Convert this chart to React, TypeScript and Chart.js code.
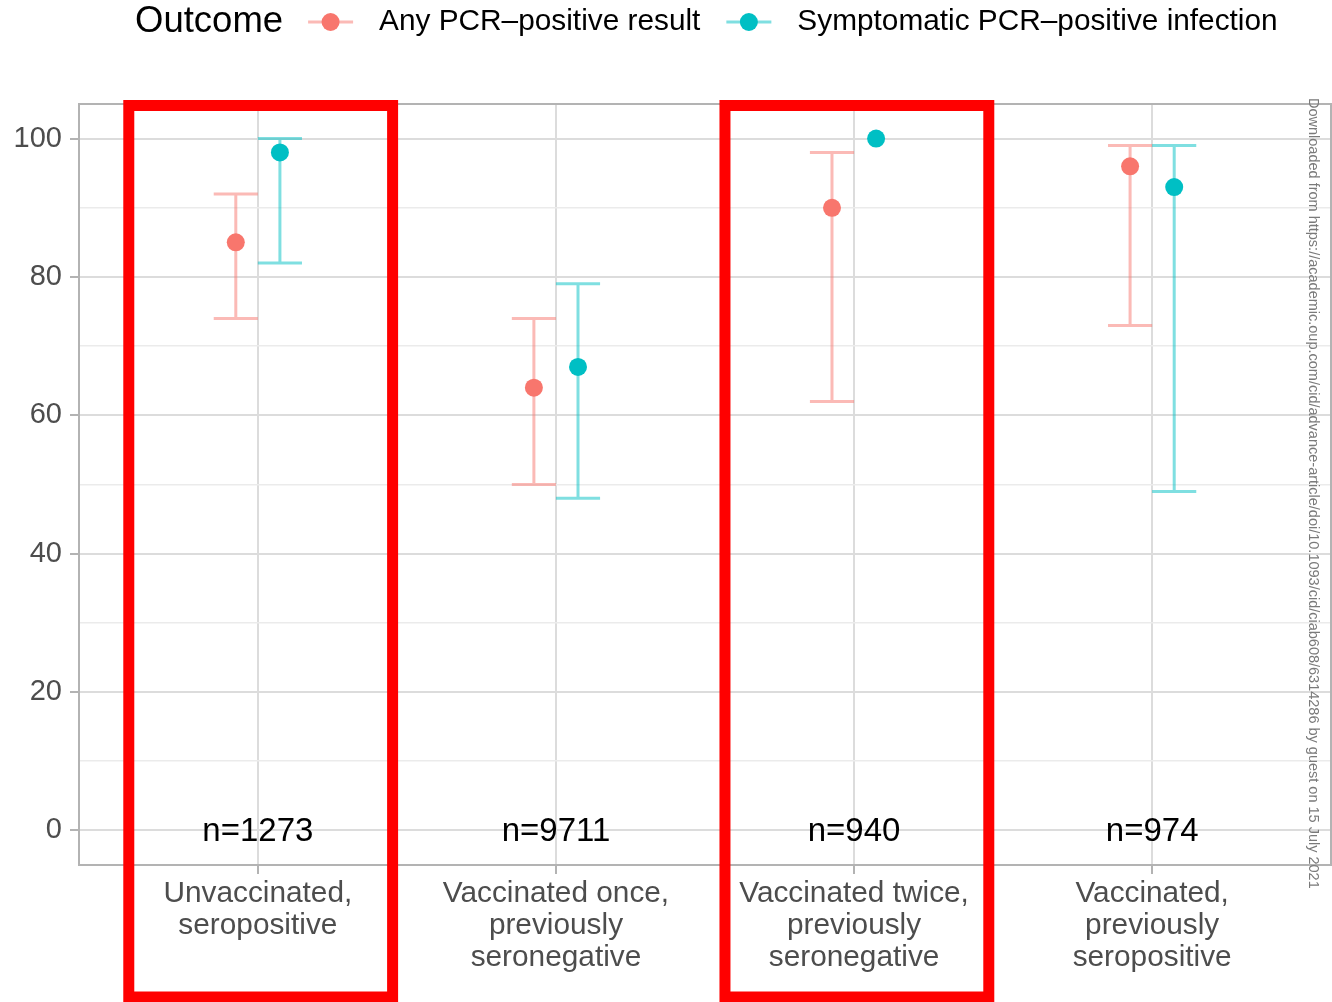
import React, { useEffect, useRef } from "react";
import { Chart, registerables } from "chart.js";

Chart.register(...registerables);

const categories: string[][] = [
  ["Unvaccinated,", "seropositive"],
  ["Vaccinated once,", "previously", "seronegative"],
  ["Vaccinated twice,", "previously", "seronegative"],
  ["Vaccinated,", "previously", "seropositive"],
];
const sampleSizes = ["n=1273", "n=9711", "n=940", "n=974"];

const anyPcrLabel = "Any PCR\u2013positive result";
const anyPcr = [85, 64, 90, 96];
const anyPcrLow = [74, 50, 62, 73];
const anyPcrHigh = [92, 74, 98, 99];

const sympLabel = "Symptomatic PCR\u2013positive infection";
const symp = [98, 67, 100, 93];
const sympLow: (number | null)[] = [82, 48, null, 49];
const sympHigh: (number | null)[] = [100, 79, null, 99];

const yTicks = [0, 10, 20, 30, 40, 50, 60, 70, 80, 90, 100];
const highlighted = [0, 2];
const legendTitle = "Outcome";
const watermark =
  "Downloaded from https://academic.oup.com/cid/advance-article/doi/10.1093/cid/ciab608/6314286 by guest on 15 July 2021";

const RED = "#F8766D";
const TEAL = "#00BFC4";
const FONT = '"Liberation Sans", Arial, Helvetica, sans-serif';
const DODGE = 0.074;

export default function App() {
  const ref = useRef<HTMLCanvasElement | null>(null);

  useEffect(() => {
    document.body.style.margin = "0";
    const canvas = ref.current!;
    const seriesInfo = [
      { label: anyPcrLabel, color: RED, mid: anyPcr, low: anyPcrLow, high: anyPcrHigh, off: -DODGE },
      { label: sympLabel, color: TEAL, mid: symp, low: sympLow, high: sympHigh, off: DODGE },
    ];

    const hexA = (hex: string, a: number) => {
      const r = parseInt(hex.slice(1, 3), 16);
      const g = parseInt(hex.slice(3, 5), 16);
      const b = parseInt(hex.slice(5, 7), 16);
      return `rgba(${r},${g},${b},${a})`;
    };

    const plugin = {
      id: "custom",
      beforeDatasetsDraw(chart: any) {
        const ctx = chart.ctx;
        const xs = chart.scales.x;
        const ys = chart.scales.y;
        ctx.save();
        ctx.lineWidth = 3;
        for (const s of seriesInfo) {
          ctx.strokeStyle = hexA(s.color, 0.5);
          s.mid.forEach((_, i) => {
            const lo = s.low[i];
            const hi = s.high[i];
            if (lo == null || hi == null) return;
            const cx = xs.getPixelForValue(i + s.off);
            const x0 = xs.getPixelForValue(i + s.off - DODGE);
            const x1 = xs.getPixelForValue(i + s.off + DODGE);
            const yl = ys.getPixelForValue(lo);
            const yh = ys.getPixelForValue(hi);
            ctx.beginPath();
            ctx.moveTo(cx, yl);
            ctx.lineTo(cx, yh);
            ctx.moveTo(x0, yl);
            ctx.lineTo(x1, yl);
            ctx.moveTo(x0, yh);
            ctx.lineTo(x1, yh);
            ctx.stroke();
          });
        }
        ctx.restore();
      },
      afterDatasetsDraw(chart: any) {
        const ctx = chart.ctx;
        const xs = chart.scales.x;
        const ys = chart.scales.y;
        const a = chart.chartArea;
        ctx.save();
        ctx.fillStyle = "#000";
        ctx.font = `33px ${FONT}`;
        ctx.textAlign = "center";
        ctx.textBaseline = "middle";
        sampleSizes.forEach((t, i) => {
          ctx.fillText(t, xs.getPixelForValue(i), ys.getPixelForValue(0) + 1);
        });
        ctx.strokeStyle = "#b3b3b3";
        ctx.lineWidth = 2;
        ctx.strokeRect(a.left, a.top, a.right - a.left, a.bottom - a.top);
        ctx.restore();
      },
      afterDraw(chart: any) {
        const ctx = chart.ctx;
        const xs = chart.scales.x;
        const a = chart.chartArea;
        ctx.save();
        const ly = 22;
        let x = 135;
        ctx.textBaseline = "middle";
        ctx.textAlign = "left";
        ctx.fillStyle = "#000";
        ctx.font = `36.5px ${FONT}`;
        ctx.fillText(legendTitle, x, ly);
        x += ctx.measureText(legendTitle).width + 25;
        ctx.font = `29.8px ${FONT}`;
        for (const s of seriesInfo) {
          ctx.strokeStyle = hexA(s.color, 0.5);
          ctx.lineWidth = 3;
          ctx.beginPath();
          ctx.moveTo(x, ly);
          ctx.lineTo(x + 45, ly);
          ctx.stroke();
          ctx.fillStyle = s.color;
          ctx.beginPath();
          ctx.arc(x + 22.5, ly, 9, 0, Math.PI * 2);
          ctx.fill();
          x += 45 + 26;
          ctx.fillStyle = "#000";
          ctx.fillText(s.label, x, ly);
          x += ctx.measureText(s.label).width + 26;
        }
        ctx.save();
        ctx.translate(1313, 98);
        ctx.rotate(Math.PI / 2);
        ctx.font = `14.5px ${FONT}`;
        ctx.fillStyle = "#7a7a7a";
        ctx.textBaseline = "middle";
        ctx.textAlign = "left";
        ctx.fillText(watermark, 0, 0);
        ctx.restore();
        ctx.strokeStyle = "#ff0000";
        ctx.lineWidth = 11;
        for (const i of highlighted) {
          const x0 = xs.getPixelForValue(i - 0.433);
          const x1 = xs.getPixelForValue(i + 0.452);
          const y0 = a.top + 1.5;
          const y1 = chart.height - 5;
          ctx.strokeRect(x0, y0, x1 - x0, y1 - y0);
        }
        ctx.restore();
      },
    };

    const chart = new Chart(canvas, {
      type: "scatter",
      data: {
        datasets: seriesInfo.map((s) => ({
          label: s.label,
          data: s.mid.map((v, i) => ({ x: i + s.off, y: v })),
          backgroundColor: s.color,
          borderColor: s.color,
          borderWidth: 0,
          pointRadius: 9,
          pointHoverRadius: 9,
        })),
      },
      options: {
        animation: false,
        responsive: false,
        events: [],
        layout: { autoPadding: false, padding: { top: 104, right: 1, left: 0, bottom: 0 } },
        plugins: { legend: { display: false }, tooltip: { enabled: false } },
        scales: {
          x: {
            type: "linear",
            min: -0.6,
            max: 3.6,
            afterBuildTicks: (sc: any) => {
              sc.ticks = categories.map((_, i) => ({ value: i }));
            },
            afterFit: (sc: any) => {
              sc.height = 137;
              sc.paddingLeft = 0;
              sc.paddingRight = 0;
            },
            border: { display: false },
            grid: {
              color: "#dcdcdc",
              lineWidth: 2,
              tickColor: "#b3b3b3",
              tickLength: 9,
              tickWidth: 2,
            },
            ticks: {
              autoSkip: false,
              maxRotation: 0,
              minRotation: 0,
              padding: 4,
              color: "#4d4d4d",
              font: { family: FONT, size: 29.8, lineHeight: 1.07 },
              callback: (v: any) => categories[Math.round(Number(v))] ?? "",
            },
          },
          y: {
            type: "linear",
            min: -5,
            max: 105,
            afterBuildTicks: (sc: any) => {
              sc.ticks = yTicks.map((v) => ({ value: v }));
            },
            afterFit: (sc: any) => {
              sc.width = 79;
              sc.paddingTop = 0;
              sc.paddingBottom = 0;
            },
            border: { display: false },
            grid: {
              color: (c: any) => (c.tick && c.tick.value % 20 === 0 ? "#dcdcdc" : "#ebebeb"),
              lineWidth: (c: any) => (c.tick && c.tick.value % 20 === 0 ? 2 : 1.5),
              tickColor: (c: any) => (c.tick && c.tick.value % 20 === 0 ? "#b3b3b3" : "rgba(0,0,0,0)"),
              tickLength: 9,
              tickWidth: 2,
            },
            ticks: {
              autoSkip: false,
              padding: 8,
              color: "#4d4d4d",
              font: { family: FONT, size: 29 },
              callback: (v: any) => (Number(v) % 20 === 0 ? String(v) : ""),
            },
          },
        },
      },
      plugins: [plugin],
    } as any);

    return () => chart.destroy();
  }, []);

  return (
    <div style={{ position: "absolute", left: 0, top: 0, width: 1332, height: 1002, background: "#fff" }}>
      <canvas ref={ref} width={1332} height={1002} style={{ display: "block" }} />
    </div>
  );
}
